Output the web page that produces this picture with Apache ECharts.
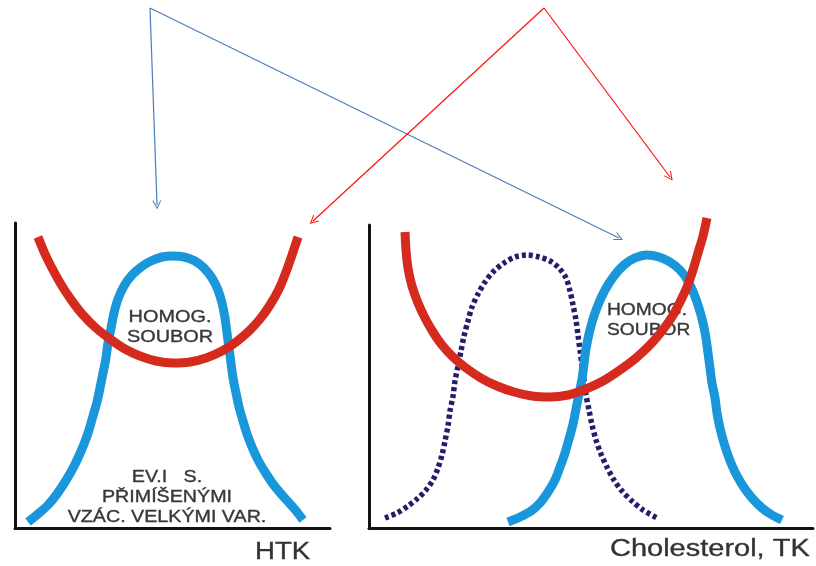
<!DOCTYPE html>
<html><head><meta charset="utf-8">
<script src="https://cdn.jsdelivr.net/npm/echarts@6/dist/echarts.min.js"></script>
<style>html,body{margin:0;padding:0;background:#fff}#c{width:816px;height:566px}</style>
</head><body><div id="c"></div>
<script>
// ---- Left panel (HTK): x 0..100, y 0..100
const htkHomogeneous = [[4.13,1.97],[7.30,4.59],[10.48,7.54],[13.33,11.15],[15.87,15.08],[18.10,19.02],[20.00,22.95],[21.90,27.54],[23.49,32.13],[24.76,36.72],[26.03,41.31],[26.98,45.90],[27.94,50.82],[28.89,55.74],[29.52,60.66],[30.48,65.57],[31.43,70.49],[32.70,75.08],[34.60,79.34],[37.14,82.95],[40.00,85.57],[43.17,87.54],[46.67,88.85],[50.16,89.18],[53.65,88.85],[57.14,87.54],[60.00,85.25],[62.54,81.97],[64.44,78.03],[65.71,73.77],[66.67,68.85],[67.30,63.93],[67.94,59.02],[68.57,54.10],[69.21,49.18],[70.16,44.26],[71.11,39.67],[72.38,35.08],[73.65,30.82],[75.24,26.56],[77.14,22.30],[79.37,18.36],[81.90,14.43],[84.76,10.82],[87.62,7.54],[89.52,5.25],[91.43,2.62]];
const htkRisk = [[7.30,95.41],[9.52,89.84],[12.06,84.59],[14.92,79.34],[18.10,74.43],[21.59,69.84],[25.71,65.57],[30.16,61.97],[34.92,58.69],[39.68,56.39],[44.76,54.75],[50.16,54.10],[55.56,54.43],[60.63,55.74],[65.71,58.03],[70.16,60.98],[74.29,64.59],[77.78,68.52],[80.95,73.11],[83.81,78.36],[86.03,83.93],[87.94,89.51],[89.84,95.41]];
// ---- Right panel (Cholesterol, TK): x 0..100, y 0..100
const cholShifted = [[3.60,3.30],[6.31,4.95],[8.78,7.26],[11.04,9.90],[12.84,12.54],[14.41,15.84],[15.54,19.80],[16.44,24.09],[17.12,28.71],[17.79,33.66],[18.24,38.61],[18.92,43.56],[19.37,48.51],[20.05,53.47],[20.72,58.42],[21.40,63.37],[22.30,68.32],[23.20,72.94],[24.55,77.23],[26.13,81.19],[28.15,84.82],[30.41,87.46],[32.88,89.44],[35.59,90.10],[38.29,89.44],[40.77,88.12],[42.79,85.81],[44.37,82.51],[45.27,78.22],[45.95,73.60],[46.62,68.65],[47.07,63.70],[47.52,58.75],[47.97,53.80],[48.42,48.84],[48.87,43.89],[49.55,38.94],[50.23,33.99],[51.13,29.04],[52.25,24.42],[53.60,20.13],[55.18,15.84],[56.98,12.21],[59.23,8.91],[61.71,5.94],[64.86,3.30]];
const cholHomogeneous = [[31.31,1.98],[34.01,3.63],[36.49,5.61],[38.51,8.25],[40.32,11.88],[41.89,15.84],[43.02,20.13],[44.14,24.75],[45.05,29.37],[45.95,34.32],[46.62,39.27],[47.30,44.22],[47.97,49.17],[48.42,54.13],[48.87,59.08],[49.55,64.03],[50.45,68.98],[51.58,73.60],[53.15,78.55],[55.18,83.17],[57.43,86.80],[59.91,89.11],[62.61,90.10],[65.32,89.44],[67.79,87.79],[70.05,85.15],[71.85,81.52],[73.20,77.23],[74.32,72.61],[75.23,67.66],[75.90,62.71],[76.35,57.76],[76.80,52.81],[77.25,47.85],[77.93,42.90],[78.38,37.95],[79.05,33.00],[79.95,28.05],[81.08,23.10],[82.43,18.48],[84.23,13.86],[86.26,9.90],[88.51,6.60],[90.77,4.29],[93.02,2.64]];
const cholRisk = [[8.11,97.69],[8.33,91.75],[8.78,85.81],[9.68,79.87],[11.04,74.26],[12.61,69.31],[14.41,64.69],[16.44,60.40],[18.92,56.44],[21.85,52.81],[25.23,49.50],[28.83,46.86],[32.66,44.88],[36.71,43.56],[40.77,43.23],[44.82,43.89],[48.87,45.87],[52.70,48.51],[56.53,52.15],[60.14,56.11],[63.29,60.40],[65.99,65.02],[68.24,69.64],[70.05,74.59],[71.62,79.54],[72.97,85.15],[74.10,90.76],[75.23,96.37],[76.13,102.31]];
// ---- Arrows on the whole-page overlay (x 0..816, y 0..566)
const blueArrows = [[[150,8],[157,205]],[[150,8],[619,238]]];
const redArrows = [[[544,8],[313,221]],[[544,8],[670,177]]];
// ---- Texts
const leftUpperText = ['HOMOG.','SOUBOR'];
const leftLowerText = ['EV.I   S.','PŘIMÍŠENÝMI','VZÁC. VELKÝMI VAR.'];
const rightText = ['HOMOG.','SOUBOR'];
const xTitles = ['HTK','Cholesterol, TK'];

const BLUE = '#1a96da', RED = '#d52b1f', NAVY = '#241d6b';
const FONT = '"Liberation Sans", Arial, sans-serif';
const chart = echarts.init(document.getElementById('c'), null, {renderer:'canvas'});

function valAxis(gi, show, extra){
  return Object.assign({
    gridIndex: gi, type: 'value', min: 0, max: 100,
    axisLine: {show: show, onZero: false, lineStyle: {color: '#111', width: 3}},
    axisTick: {show: false}, axisLabel: {show: false}, splitLine: {show: false}
  }, extra || {});
}
function curve(data, gi, color, z, extra){
  return Object.assign({
    type: 'line', xAxisIndex: gi, yAxisIndex: gi, data: data,
    showSymbol: false, symbol: 'none', smooth: 0.3, clip: false, z: z,
    lineStyle: {color: color, width: 9, cap: 'butt', join: 'round'}, silent: true, animation: false
  }, extra || {});
}
const ARROW = 'path://M5,0 L10,10 L8.7,10 L5,2.6 L1.3,10 L0,10 Z';
function arrows(data, color){
  return {
    type: 'lines', coordinateSystem: 'cartesian2d', xAxisIndex: 2, yAxisIndex: 2,
    data: data.map(c => ({coords: c})), symbol: ['none', ARROW], symbolSize: 9,
    lineStyle: {color: color, width: 1.2, opacity: 1, curveness: 0}, z: 6, silent: true, animation: false
  };
}
function txt(s, x, y, size, align, sx, color){
  const c = color || '#383838';
  return {type: 'text', x: x, y: y, scaleX: sx, z: 1, silent: true,
    style: {text: s, font: size + 'px ' + FONT, fill: c, stroke: c, lineWidth: 0.35,
      align: align, textAlign: align, verticalAlign: 'middle', textVerticalAlign: 'middle'}};
}

const graphics = [];
leftUpperText.forEach((s,i) => graphics.push(txt(s, 170, 317 + i*20, 17, 'center', 1.17)));
leftLowerText.forEach((s,i) => graphics.push(txt(s, 167, 478 + i*20, 16, 'center', 1.23)));
rightText.forEach((s,i) => graphics.push(txt(s, 607, 310 + i*20, 17, 'left', 1.13)));
graphics.push(txt(xTitles[0], 255, 553, 23, 'left', 1.2, '#333'));
graphics.push(txt(xTitles[1], 610, 550, 23, 'left', 1.26, '#333'));

chart.setOption({
  backgroundColor: '#fff',
  animation: false,
  grid: [
    {left: 15, top: 223, width: 315, height: 305},
    {left: 369, top: 225, width: 444, height: 303},
    {left: 0, top: 0, width: 816, height: 566}
  ],
  xAxis: [valAxis(0, true), valAxis(1, true), valAxis(2, false, {max: 816})],
  yAxis: [valAxis(0, true), valAxis(1, true), valAxis(2, false, {max: 566, inverse: true})],
  graphic: {elements: graphics},
  series: [
    curve(htkHomogeneous, 0, BLUE, 3),
    curve(htkRisk, 0, RED, 4),
    curve(cholShifted, 1, NAVY, 2, {lineStyle: {color: NAVY, width: 5.5, type: [4, 3], cap: 'butt'}}),
    curve(cholHomogeneous, 1, BLUE, 3),
    curve(cholRisk, 1, RED, 4),
    arrows(blueArrows, '#4a7ebb'),
    arrows(redArrows, '#ff1010')
  ]
});
</script></body></html>
